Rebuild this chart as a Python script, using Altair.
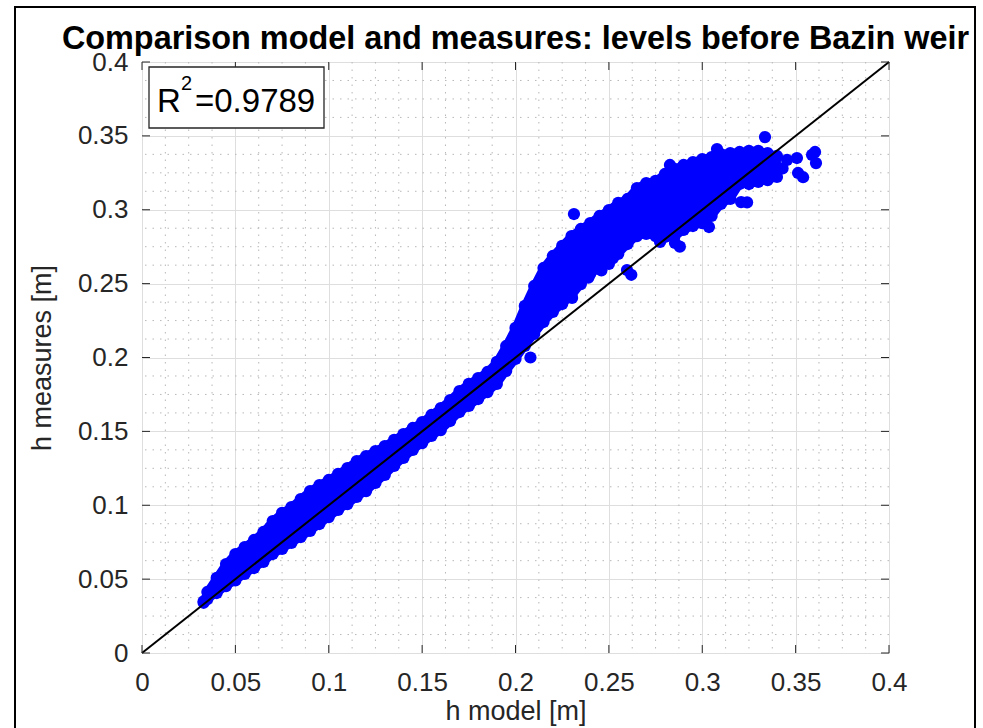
import altair as alt
import pandas as pd

# ---------------- data ----------------
major_ticks = [0, 0.05, 0.1, 0.15, 0.2, 0.25, 0.3, 0.35, 0.4]
minor_ticks = [0.0125, 0.025, 0.0375, 0.0625, 0.075, 0.0875, 0.1125, 0.125, 0.1375,
               0.1625, 0.175, 0.1875, 0.2125, 0.225, 0.2375, 0.2625, 0.275, 0.2875,
               0.3125, 0.325, 0.3375, 0.3625, 0.375, 0.3875]

# dense point cloud: envelope of the marker centres (lower / upper) along h model
band_x = [0.033, 0.035, 0.040, 0.045, 0.050, 0.055, 0.060, 0.065, 0.070, 0.075,
          0.080, 0.085, 0.090, 0.095, 0.100, 0.105, 0.110, 0.115, 0.120, 0.125,
          0.130, 0.135, 0.140, 0.145, 0.150, 0.155, 0.160, 0.165, 0.170, 0.175,
          0.180, 0.185, 0.190, 0.195, 0.200, 0.205, 0.210, 0.215, 0.220, 0.225,
          0.230, 0.235, 0.240, 0.245, 0.250, 0.255, 0.260, 0.265, 0.270, 0.275,
          0.280, 0.285, 0.290, 0.295, 0.300, 0.305, 0.310, 0.315, 0.320, 0.325,
          0.330, 0.335, 0.340]
band_lo = [0.0340, 0.0365, 0.0406, 0.0453, 0.0491, 0.0535, 0.0575, 0.0616, 0.0670, 0.0704,
           0.0745, 0.0785, 0.0826, 0.0873, 0.0920, 0.0968, 0.1008, 0.1056, 0.1096, 0.1151,
           0.1205, 0.1266, 0.1320, 0.1374, 0.1421, 0.1469, 0.1509, 0.1570, 0.1631, 0.1672,
           0.1719, 0.1766, 0.1821, 0.1909, 0.1990, 0.2078, 0.2159, 0.2240, 0.2308, 0.2362,
           0.2416, 0.2497, 0.2565, 0.2606, 0.2633, 0.2701, 0.2768, 0.2822, 0.2836, 0.2822,
           0.2816, 0.2816, 0.2863, 0.2890, 0.2910, 0.2958, 0.3039, 0.3073, 0.3174, 0.3174,
           0.3188, 0.3201, 0.3222]
band_hi = [0.0350, 0.0413, 0.0508, 0.0602, 0.0670, 0.0717, 0.0765, 0.0819, 0.0893, 0.0948,
           0.0988, 0.1042, 0.1096, 0.1137, 0.1171, 0.1212, 0.1252, 0.1299, 0.1333, 0.1367,
           0.1401, 0.1442, 0.1482, 0.1523, 0.1563, 0.1611, 0.1658, 0.1712, 0.1773, 0.1821,
           0.1861, 0.1902, 0.1970, 0.2078, 0.2200, 0.2349, 0.2484, 0.2606, 0.2687, 0.2755,
           0.2822, 0.2870, 0.2910, 0.2958, 0.2998, 0.3046, 0.3073, 0.3147, 0.3181, 0.3195,
           0.3242, 0.3276, 0.3303, 0.3323, 0.3343, 0.3357, 0.3377, 0.3384, 0.3391, 0.3398,
           0.3398, 0.3384, 0.3364]

# isolated / scattered markers
out_x = [0.2080, 0.2313, 0.3336, 0.2597, 0.2303, 0.2522, 0.2854, 0.2774, 0.3036, 0.3208,
         0.3079, 0.2827, 0.3454, 0.3507, 0.3513, 0.3588, 0.3609, 0.3604, 0.2460, 0.2390,
         0.2880, 0.3540, 0.3430, 0.3240, 0.2620]
out_y = [0.2000, 0.2971, 0.3492, 0.2592, 0.2403, 0.2673, 0.2775, 0.2782, 0.2883, 0.3052,
         0.3411, 0.3303, 0.3337, 0.3350, 0.3249, 0.3371, 0.3316, 0.3391, 0.2590, 0.2540,
         0.2750, 0.3220, 0.3280, 0.3050, 0.2560]

ref_x = [0.0, 0.4]
ref_y = [0.0, 0.4]

title_text = "Comparison model and measures: levels before Bazin weir"
x_title = "h model [m]"
y_title = "h measures [m]"
r2_value = "=0.9789"

# ---------------- chart ----------------
W, H = 747, 591
FONT = "Liberation Sans"
BLUE = "#0000ff"
AX = "#262626"

xs = alt.Scale(domain=[0, 0.4], nice=False, zero=False)
ys = alt.Scale(domain=[0, 0.4], nice=False, zero=False)
x_axis = alt.Axis(values=major_ticks, format="~g", title=x_title, grid=True,
                  gridColor="#dedede", gridWidth=1, ticks=False, domain=False,
                  labelFontSize=26, labelFont=FONT, labelColor=AX, labelPadding=16,
                  labelFlush=False, labelOverlap=False, titleFontSize=27, titleFont=FONT,
                  titleFontWeight="normal", titleColor=AX, titleX=W / 2, titleY=58,
                  titleBaseline="middle")
y_axis = alt.Axis(values=major_ticks, format="~g", title=y_title, grid=True,
                  gridColor="#dedede", gridWidth=1, ticks=False, domain=False,
                  labelFontSize=26, labelFont=FONT, labelColor=AX, labelPadding=14,
                  labelFlush=False, labelOverlap=False, titleFontSize=27, titleFont=FONT,
                  titleFontWeight="normal", titleColor=AX, titleX=-100, titleY=H / 2,
                  titleBaseline="middle")


def X(f="x"):
    return alt.X(f"{f}:Q", scale=xs, axis=x_axis)


def Y(f="y"):
    return alt.Y(f"{f}:Q", scale=ys, axis=y_axis)


one = pd.DataFrame({"k": [0]})
df_minor_x = pd.DataFrame({"x": minor_ticks})
df_minor_y = pd.DataFrame({"y": minor_ticks})
df_major_x = pd.DataFrame({"x": major_ticks})
df_major_y = pd.DataFrame({"y": major_ticks})
df_band = pd.DataFrame({"x": band_x, "lo": band_lo, "hi": band_hi})
df_pts = pd.DataFrame({
    "x": band_x + band_x + out_x,
    "y": band_lo + band_hi + out_y,
})
df_ref = pd.DataFrame({"x": ref_x, "y": ref_y})

dash = [1.5, 6]
minor_v = alt.Chart(df_minor_x).mark_rule(color="#b8b8b8", strokeWidth=1, strokeDash=dash).encode(x=X())
minor_h = alt.Chart(df_minor_y).mark_rule(color="#b8b8b8", strokeWidth=1, strokeDash=dash).encode(y=Y())

band = alt.Chart(df_band).mark_area(color=BLUE, opacity=1, interpolate="linear",
                                    stroke=BLUE, strokeWidth=8, strokeJoin="round").encode(
    x=X(), y=Y("lo"), y2="hi:Q")
pts = alt.Chart(df_pts).mark_circle(color=BLUE, opacity=1, size=150).encode(x=X(), y=Y())
ref = alt.Chart(df_ref).mark_line(color="black", strokeWidth=2).encode(x=X(), y=Y())

tick_style = dict(color=AX, strokeWidth=1)
t_bottom = alt.Chart(df_major_x).mark_rule(**tick_style).encode(x=X(), y=alt.value(H), y2=alt.value(H - 8))
t_top = alt.Chart(df_major_x).mark_rule(**tick_style).encode(x=X(), y=alt.value(0), y2=alt.value(8))
t_left = alt.Chart(df_major_y).mark_rule(**tick_style).encode(y=Y(), x=alt.value(0), x2=alt.value(8))
t_right = alt.Chart(df_major_y).mark_rule(**tick_style).encode(y=Y(), x=alt.value(W), x2=alt.value(W - 8))

box = alt.Chart(one).mark_rect(fill="white", stroke=AX, strokeWidth=1.3).encode(
    x=alt.value(7), x2=alt.value(182), y=alt.value(5), y2=alt.value(66))
txt_r = alt.Chart(one).mark_text(text="R", align="left", baseline="alphabetic", fontSize=33,
                                 font=FONT, color="black").encode(x=alt.value(15), y=alt.value(50))
txt_2 = alt.Chart(one).mark_text(text="2", align="left", baseline="alphabetic", fontSize=20,
                                 font=FONT, color="black").encode(x=alt.value(39), y=alt.value(28))
txt_v = alt.Chart(one).mark_text(text=r2_value, align="left", baseline="alphabetic", fontSize=33,
                                 font=FONT, color="black").encode(x=alt.value(53), y=alt.value(50))

title = alt.Chart(one).mark_text(text=title_text, align="center", baseline="alphabetic",
                                 fontSize=32.4, fontWeight="bold", font=FONT, color="black").encode(
    x=alt.value(W / 2), y=alt.value(-13))

border = alt.Chart(one).mark_rect(fill="white", fillOpacity=0, stroke="black", strokeWidth=2).encode(
    x=alt.value(-127), x2=alt.value(833), y=alt.value(-55), y2=alt.value(672))

chart = alt.layer(
    minor_v, minor_h, band, pts, ref, t_bottom, t_top, t_left, t_right,
    box, txt_r, txt_2, txt_v, title, border
).properties(
    width=W, height=H,
    autosize=alt.AutoSizeParams(type="none"),
    padding={"left": 142, "top": 62, "right": 94, "bottom": 75},
).configure_view(stroke=AX, strokeWidth=1.2).configure(background="white")

chart.save("out.html", embed_options={"renderer": "svg", "actions": False})
